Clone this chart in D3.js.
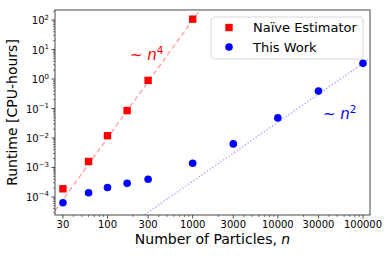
<!DOCTYPE html>
<html>
<head>
<meta charset="utf-8">
<script src="https://cdnjs.cloudflare.com/ajax/libs/d3/7.8.5/d3.min.js"></script>
<style>
  body { margin: 0; background: #fff; }
  text { font-family: "DejaVu Sans", sans-serif; }
</style>
</head>
<body>
<script>
// data
var naiveN = [30, 60, 100, 170, 300, 1000];
var naiveT = [1.9e-4, 1.6e-3, 1.2e-2, 8.5e-2, 0.9, 107];
var workN = [30, 60, 100, 170, 300, 1000, 3000, 10000, 30000, 100000];
var workT = [6.4e-5, 1.4e-4, 2.1e-4, 2.9e-4, 4.0e-4, 1.4e-3, 6.3e-3, 4.8e-2, 0.39, 3.4];
var xTickVals = [30, 100, 300, 1000, 3000, 10000, 30000, 100000];
var yTickExp = [-4, -3, -2, -1, 0, 1, 2];
var n4Coef = 1.0e-10, n2Coef = 3.4e-10;

window.onload = drawChart();

function drawChart(){
    var width = 390, height = 256;
    var margin = {left: 55, right: 20, top: 10, bottom: 41};

    var svg = d3.select("body").append("svg")
        .attr("width", width)
        .attr("height", height);

    var x = d3.scaleLog()
        .domain([24.2, 120800])
        .range([margin.left, width - margin.right]);
    var y = d3.scaleLog()
        .domain([2.45e-5, 219])
        .range([height - margin.bottom, margin.top]);

    var clip = svg.append("clipPath").attr("id", "plotclip")
        .append("rect")
        .attr("x", margin.left).attr("y", margin.top)
        .attr("width", width - margin.left - margin.right)
        .attr("height", height - margin.top - margin.bottom);

    //minor ticks
    var xMinor = [], yMinor = [];
    for (var e = 1; e <= 5; e++){
        for (var m = 1; m <= 9; m++){
            var v = m * Math.pow(10, e);
            if (v >= x.domain()[0] && v <= x.domain()[1] && xTickVals.indexOf(v) < 0) xMinor.push(v);
        }
    }
    for (var e2 = -5; e2 <= 2; e2++){
        for (var m2 = 2; m2 <= 9; m2++){
            var v2 = m2 * Math.pow(10, e2);
            if (v2 >= y.domain()[0] && v2 <= y.domain()[1]) yMinor.push(v2);
        }
    }

    var xAxis = svg.append("g")
        .attr("transform", "translate(0," + (height - margin.bottom) + ")");
    xAxis.selectAll(".minor").data(xMinor).enter().append("line")
        .attr("x1", function(d){ return x(d); }).attr("x2", function(d){ return x(d); })
        .attr("y1", 0).attr("y2", 2)
        .attr("stroke", "#222").attr("stroke-width", 0.6);
    xAxis.selectAll(".major").data(xTickVals).enter().append("line")
        .attr("x1", function(d){ return x(d); }).attr("x2", function(d){ return x(d); })
        .attr("y1", 0).attr("y2", 3.5)
        .attr("stroke", "#222").attr("stroke-width", 0.8);
    xAxis.selectAll(".lab").data(xTickVals).enter().append("text")
        .attr("x", function(d){ return x(d); })
        .attr("y", 13)
        .attr("text-anchor", "middle")
        .attr("font-size", "10px")
        .text(function(d){ return d; });

    var yAxis = svg.append("g")
        .attr("transform", "translate(" + margin.left + ",0)");
    yAxis.selectAll(".minor").data(yMinor).enter().append("line")
        .attr("y1", function(d){ return y(d); }).attr("y2", function(d){ return y(d); })
        .attr("x1", 0).attr("x2", -2)
        .attr("stroke", "#222").attr("stroke-width", 0.6);
    yAxis.selectAll(".major").data(yTickExp).enter().append("line")
        .attr("y1", function(d){ return y(Math.pow(10, d)); }).attr("y2", function(d){ return y(Math.pow(10, d)); })
        .attr("x1", 0).attr("x2", -3.5)
        .attr("stroke", "#222").attr("stroke-width", 0.8);
    var yl = yAxis.selectAll(".lab").data(yTickExp).enter().append("text")
        .attr("x", -6)
        .attr("y", function(d){ return y(Math.pow(10, d)) + 4; })
        .attr("text-anchor", "end")
        .attr("font-size", "10px");
    yl.append("tspan").text("10");
    yl.append("tspan")
        .attr("dy", -4.5)
        .attr("font-size", "7px")
        .text(function(d){ return d < 0 ? "\u2212" + (-d) : d; });

    //trend lines
    var plot = svg.append("g").attr("clip-path", "url(#plotclip)");
    var xs = d3.range(0, 61).map(function(i){ return 24.2 * Math.pow(120800 / 24.2, i / 60); });
    plot.append("path")
        .datum(xs)
        .attr("fill", "none")
        .attr("stroke", "#ff8080")
        .attr("stroke-opacity", 0.75)
        .attr("stroke-width", 1.3)
        .attr("stroke-dasharray", "5,3")
        .attr("d", d3.line().x(function(d){ return x(d); }).y(function(d){ return y(n4Coef * Math.pow(d, 4)); }));
    plot.append("path")
        .datum(xs)
        .attr("fill", "none")
        .attr("stroke", "#8080ff")
        .attr("stroke-opacity", 0.75)
        .attr("stroke-width", 1.3)
        .attr("stroke-dasharray", "1.3,2")
        .attr("d", d3.line().x(function(d){ return x(d); }).y(function(d){ return y(n2Coef * Math.pow(d, 2)); }));

    //points
    svg.selectAll(".naive").data(naiveN).enter().append("rect")
        .attr("x", function(d){ return x(d) - 3.7; })
        .attr("y", function(d, i){ return y(naiveT[i]) - 3.7; })
        .attr("width", 7.4).attr("height", 7.4)
        .attr("fill", "red");
    svg.selectAll(".work").data(workN).enter().append("circle")
        .attr("cx", function(d){ return x(d); })
        .attr("cy", function(d, i){ return y(workT[i]); })
        .attr("r", 3.8)
        .attr("fill", "blue");

    //frame
    svg.append("rect")
        .attr("x", margin.left).attr("y", margin.top)
        .attr("width", width - margin.left - margin.right)
        .attr("height", height - margin.top - margin.bottom)
        .attr("fill", "none")
        .attr("stroke", "#333")
        .attr("stroke-width", 0.9);

    //annotations
    var a4 = svg.append("text").attr("x", 130).attr("y", 60)
        .attr("fill", "red").attr("font-size", "15px");
    a4.append("tspan").text("~ ");
    a4.append("tspan").attr("font-style", "italic").text("n");
    a4.append("tspan").attr("dy", -6).attr("font-size", "10.5px").text("4");
    var a2 = svg.append("text").attr("x", 323).attr("y", 119)
        .attr("fill", "blue").attr("font-size", "15px");
    a2.append("tspan").text("~ ");
    a2.append("tspan").attr("font-style", "italic").text("n");
    a2.append("tspan").attr("dy", -6).attr("font-size", "10.5px").text("2");

    //legend
    var leg = svg.append("g");
    leg.append("rect")
        .attr("x", 211).attr("y", 17)
        .attr("width", 152).attr("height", 42)
        .attr("rx", 3)
        .attr("fill", "#fff").attr("fill-opacity", 0.8)
        .attr("stroke", "#ccc").attr("stroke-width", 0.8);
    leg.append("rect")
        .attr("x", 229 - 3.7).attr("y", 27.5 - 3.7)
        .attr("width", 7.4).attr("height", 7.4)
        .attr("fill", "red");
    leg.append("circle")
        .attr("cx", 229).attr("cy", 47)
        .attr("r", 3.8).attr("fill", "blue");
    leg.append("text").attr("x", 253).attr("y", 32)
        .attr("font-size", "13px").text("Naïve Estimator");
    leg.append("text").attr("x", 253).attr("y", 52)
        .attr("font-size", "13px").text("This Work");

    //axis labels
    var xl = svg.append("text")
        .attr("x", (margin.left + width - margin.right) / 2)
        .attr("y", 244)
        .attr("text-anchor", "middle")
        .attr("font-size", "14px");
    xl.append("tspan").text("Number of Particles, ");
    xl.append("tspan").attr("font-style", "italic").text("n");

    svg.append("text")
        .attr("transform", "translate(17," + ((margin.top + height - margin.bottom) / 2) + ") rotate(-90)")
        .attr("text-anchor", "middle")
        .attr("font-size", "14px")
        .text("Runtime [CPU-hours]");
}
</script>
</body>
</html>
